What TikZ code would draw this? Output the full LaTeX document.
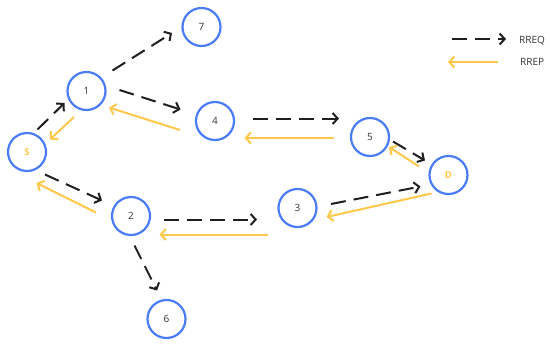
\documentclass[tikz,border=0pt]{standalone}
\usepackage{fontspec}
\setmainfont{Open Sans}
\usetikzlibrary{arrows.meta}
\definecolor{nodeblue}{HTML}{4A7CF7}
\definecolor{repyellow}{HTML}{FFC84A}
\definecolor{txt}{HTML}{333333}
\tikzset{
  x=1pt,y=-1pt,
  nd/.style={circle,draw=nodeblue,line width=2.2pt,minimum size=38pt,inner sep=0pt,
    font=\fontsize{10}{12}\selectfont,text=txt},
  ndy/.style={nd,text=repyellow,font=\fontsize{9.5}{12}\selectfont\bfseries},
  req/.style={draw=black!88,line width=2pt,dash pattern=on 15pt off 8pt,
    -{Straight Barb[length=5pt,width=11pt,line width=2pt]}},
  rep/.style={draw=repyellow,line width=2pt,
    -{Straight Barb[length=5pt,width=11pt,line width=2pt]}},
  lbl/.style={font=\fontsize{10}{12}\selectfont,text=txt,anchor=west,inner sep=0pt}
}
\begin{document}
\begin{tikzpicture}
\useasboundingbox (0,0) rectangle (550,346);
% nodes
\node[nd] (n7) at (201.5,27) {7};
\node[nd] (n1) at (86.5,91) {1};
\node[nd] (n4) at (215,121) {4};
\node[ndy] (S) at (27,152) {S};
\node[nd] (n5) at (370,137) {5};
\node[ndy] (D) at (448.5,175) {D};
\node[nd] (n3) at (297.5,208) {3};
\node[nd] (n2) at (131,216) {2};
\node[nd] (n6) at (166.5,319) {6};
% endpoints
\coordinate (a1) at (37.5,129.5); \coordinate (a2) at (64.5,103);
\coordinate (b1) at (74,117);     \coordinate (b2) at (50,139.5);
\coordinate (c1) at (112.5,70.5); \coordinate (c2) at (172,33);
\coordinate (d1) at (119.5,90);   \coordinate (d2) at (180.5,109.5);
\coordinate (e1) at (180,130);    \coordinate (e2) at (109,107.5);
\coordinate (f1) at (253,118.5);  \coordinate (f2) at (339,118.5);
\coordinate (g1) at (334,138);    \coordinate (g2) at (244.5,138);
\coordinate (h1) at (393,141.5);  \coordinate (h2) at (425,160.5);
\coordinate (i1) at (419,166.5);  \coordinate (i2) at (389,147);
\coordinate (j1) at (331,204);    \coordinate (j2) at (420.5,186.5);
\coordinate (k1) at (431.5,193.5);\coordinate (k2) at (326.5,217);
\coordinate (l1) at (45,174.5);   \coordinate (l2) at (102,200.5);
\coordinate (m1) at (96,212.5);   \coordinate (m2) at (36.5,183);
\coordinate (o1) at (164,219.5);  \coordinate (o2) at (257,219.5);
\coordinate (p1) at (268,234.5);  \coordinate (p2) at (159.5,234.5);
\coordinate (q1) at (134.5,245.5);\coordinate (q2) at (157,290.5);
% connectors
\draw[req] (a1) -- (a2);
\draw[rep] (b1) -- (b2);
\draw[req] (c1) -- (c2);
\draw[req] (d1) -- (d2);
\draw[rep] (e1) -- (e2);
\draw[req] (f1) -- (f2);
\draw[rep] (g1) -- (g2);
\draw[req] (h1) -- (h2);
\draw[rep] (i1) -- (i2);
\draw[req] (j1) -- (j2);
\draw[rep] (k1) -- (k2);
\draw[req] (l1) -- (l2);
\draw[rep] (m1) -- (m2);
\draw[req] (o1) -- (o2);
\draw[rep] (p1) -- (p2);
\draw[req] (q1) -- (q2);
% legend
\coordinate (lq1) at (452,39); \coordinate (lq2) at (506,39);
\coordinate (lp1) at (498,62); \coordinate (lp2) at (448,62);
\draw[req] (lq1) -- (lq2);
\draw[rep] (lp1) -- (lp2);
\node[lbl] (lreq) at (519,41) {RREQ};
\node[lbl] (lrep) at (520,62) {RREP};
\end{tikzpicture}
\end{document}
